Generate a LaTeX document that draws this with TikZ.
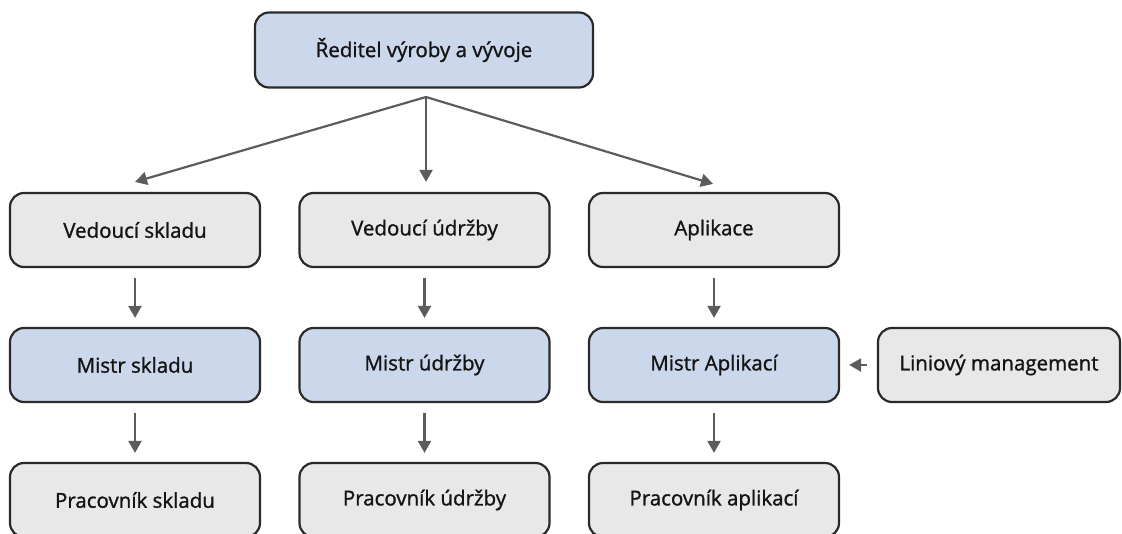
\documentclass[tikz,border=0pt]{standalone}
\usepackage{fontspec}
\setmainfont{Open Sans}
\newfontfamily\boxfont[BoldFont={Open Sans}, BoldFeatures={FakeBold=1.2}]{Open Sans}
\usetikzlibrary{arrows.meta}
\definecolor{bluefill}{HTML}{CBD8EB}
\definecolor{greyfill}{HTML}{E8E8E8}
\definecolor{boxline}{HTML}{2A2A2A}
\definecolor{arrowline}{HTML}{5C5C5C}
\definecolor{textcol}{HTML}{141414}
\tikzset{
  x=1pt, y=-1pt,
  orgbox/.style={draw=boxline, line width=2.2pt, rounded corners=14pt,
    minimum width=250pt, minimum height=74pt, inner sep=0pt,
    font=\boxfont\bfseries\fontsize{20.5}{24}\selectfont, text=textcol},
  bluebox/.style={orgbox, fill=bluefill},
  greybox/.style={orgbox, fill=greyfill},
  link/.style={draw=arrowline, line width=2.2pt,
    -{Triangle[width=13pt,length=12pt]}}
}
\begin{document}
\begin{tikzpicture}
\useasboundingbox (0,0) rectangle (1122,533);
% director
\node[bluebox, minimum width=338pt, minimum height=75pt] (dir) at (424,50) {Ředitel výroby a vývoje};
% first row
\node[greybox] (vs) at (135,230) {Vedoucí skladu};
\node[greybox] (vu) at (424.5,230) {Vedoucí údržby};
\node[greybox] (ap) at (714,230) {Aplikace};
% second row
\node[bluebox] (ms) at (135,365) {Mistr skladu};
\node[bluebox] (mu) at (424.5,365) {Mistr údržby};
\node[bluebox] (ma) at (714,365) {Mistr Aplikací};
\node[greybox, minimum width=242pt] (lm) at (999,365) {Liniový management};
% third row
\node[greybox] (ps) at (135,500) {Pracovník skladu};
\node[greybox] (pu) at (424.5,500) {Pracovník údržby};
\node[greybox] (pa) at (714,500) {Pracovník aplikací};
% connectors (canvas y points up, so a positive yshift lifts a point)
\coordinate (fork) at (426,97);
\draw[link] (fork) -- ([yshift=10pt]vs.north);
\draw[link] (fork) -- ([xshift=1.5pt,yshift=10pt]vu.north);
\draw[link] (fork) -- ([xshift=-1pt,yshift=8pt]ap.north);
\draw[link] ([yshift=-10pt]vs.south) -- ([yshift=9pt]ms.north);
\draw[link] ([yshift=-10pt]vu.south) -- ([yshift=9pt]mu.north);
\draw[link] ([yshift=-10pt]ap.south) -- ([yshift=9pt]ma.north);
\draw[link] ([yshift=-10pt]ms.south) -- ([yshift=9pt]ps.north);
\draw[link] ([yshift=-10pt]mu.south) -- ([yshift=9pt]pu.north);
\draw[link] ([yshift=-10pt]ma.south) -- ([yshift=9pt]pa.north);
\draw[link] ([xshift=-10pt]lm.west) -- ([xshift=9pt]ma.east);
\end{tikzpicture}
\end{document}
